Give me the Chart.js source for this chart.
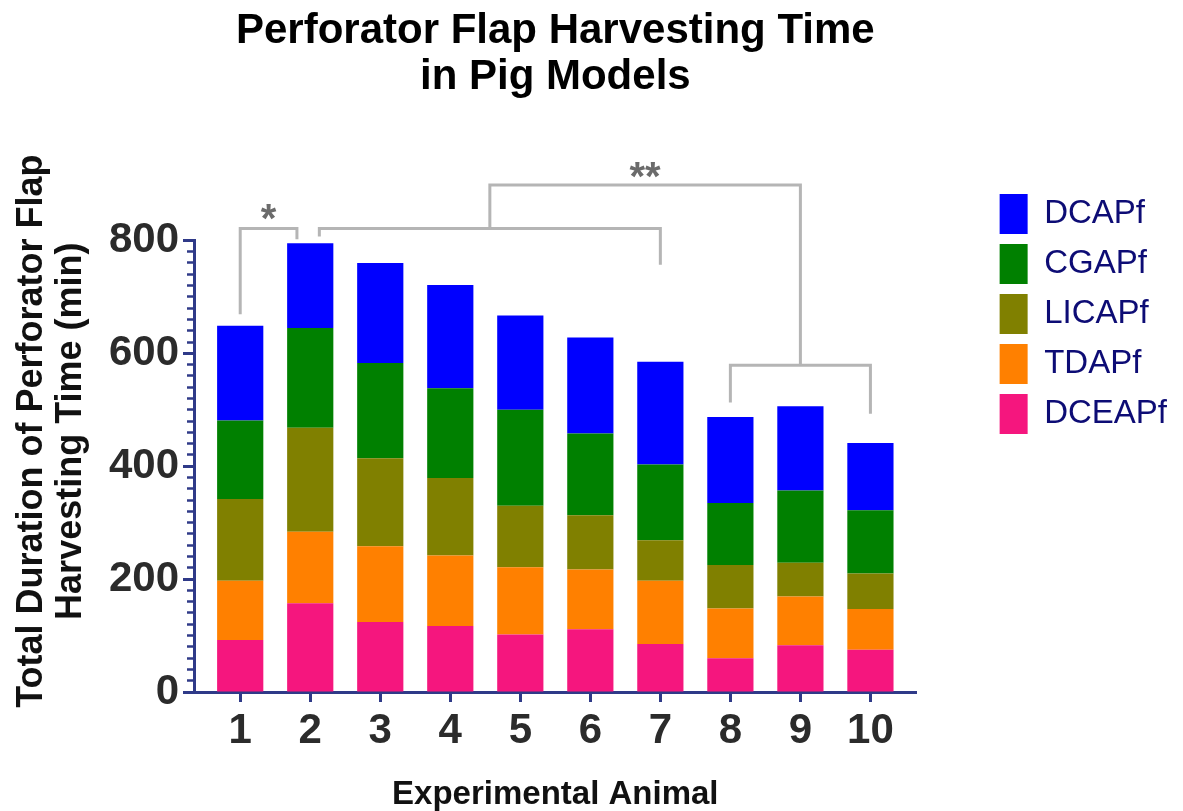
<!DOCTYPE html>
<html>
<head>
<meta charset="utf-8">
<script src="https://cdn.jsdelivr.net/npm/chart.js@4/dist/chart.umd.min.js"></script>
<style>
  html, body { margin: 0; padding: 0; background: #fff; }
  #wrap { width: 1183px; height: 811px; }
</style>
</head>
<body>
<div id="wrap"><canvas id="flapChart"></canvas></div>
<script>
  // animals on the x axis
  const animals = ['1', '2', '3', '4', '5', '6', '7', '8', '9', '10'];

  // minutes per flap (bottom of stack first)
  const dceapf = [92, 157, 124, 117, 102, 111, 85, 60, 83, 75];
  const tdapf  = [105, 127, 134, 125, 119, 106, 112, 88, 86, 72];
  const licapf = [145, 184, 156, 137, 109, 96, 72, 77, 60, 63];
  const cgapf  = [139, 177, 169, 159, 170, 145, 134, 110, 128, 112];
  const dcapf  = [168, 150, 177, 183, 167, 170, 182, 152, 149, 119];

  const yTicks = [0, 200, 400, 600, 800];

  // significance brackets, x in animal number, y in minutes
  const brackets = [
    { from: 1,     to: 1.81, top: 821, leftEnd: 669, rightEnd: 802 },
    { from: 2.13,  to: 7,    top: 821, leftEnd: 807, rightEnd: 757 },
    { from: 8,     to: 10,   top: 579, leftEnd: 513, rightEnd: 493 },
    { from: 4.565, to: 9,    top: 898, leftEnd: 821, rightEnd: 579 }
  ];
  const stars = [
    { x: 1.405, y: 814, text: '*' },
    { x: 6.78,  y: 889, text: '**' }
  ];

  const NAVY = '#2f3a88';
  const FONT = '"Liberation Sans", Arial, Helvetica, sans-serif';
  Chart.defaults.font.family = FONT;

  const toPoints = arr => arr.map((v, i) => ({ x: i + 1, y: v }));

  const sigPlugin = {
    id: 'sigBrackets',
    afterDraw(chart) {
      const { ctx } = chart;
      const x = chart.scales.x, y = chart.scales.y;
      ctx.save();
      ctx.strokeStyle = '#b5b5b5';
      ctx.lineWidth = 3;
      brackets.forEach(b => {
        const x1 = x.getPixelForValue(b.from);
        const x2 = x.getPixelForValue(b.to);
        const yt = y.getPixelForValue(b.top);
        ctx.beginPath();
        ctx.moveTo(x1, y.getPixelForValue(b.leftEnd));
        ctx.lineTo(x1, yt);
        ctx.lineTo(x2, yt);
        ctx.lineTo(x2, y.getPixelForValue(b.rightEnd));
        ctx.stroke();
      });
      ctx.fillStyle = '#6b6b6b';
      ctx.font = 'bold 40px ' + FONT;
      ctx.textAlign = 'center';
      ctx.textBaseline = 'alphabetic';
      stars.forEach(s => {
        ctx.fillText(s.text, x.getPixelForValue(s.x), y.getPixelForValue(s.y));
      });
      ctx.restore();
    }
  };

  new Chart(document.getElementById('flapChart'), {
    type: 'bar',
    data: {
      datasets: [
        { label: 'DCEAPf', data: toPoints(dceapf), backgroundColor: '#f5167e' },
        { label: 'TDAPf',  data: toPoints(tdapf),  backgroundColor: '#ff8000' },
        { label: 'LICAPf', data: toPoints(licapf), backgroundColor: '#808000' },
        { label: 'CGAPf',  data: toPoints(cgapf),  backgroundColor: '#008000' },
        { label: 'DCAPf',  data: toPoints(dcapf),  backgroundColor: '#0000ff' }
      ]
    },
    options: {
      responsive: true,
      maintainAspectRatio: false,
      animation: false,
      barPercentage: 0.66,
      categoryPercentage: 1,
      layout: { padding: { top: 0, right: 6, bottom: 0, left: 0 } },
      plugins: {
        title: {
          display: true,
          fullSize: false,
          text: ['Perforator Flap Harvesting Time', 'in Pig Models'],
          color: '#000',
          font: { size: 42, weight: 'bold', lineHeight: 1.1 },
          padding: { top: 8, bottom: 140 }
        },
        legend: {
          position: 'right',
          align: 'start',
          reverse: true,
          maxWidth: 200,
          title: { display: true, text: '', font: { size: 10, lineHeight: 1 }, padding: { top: 174, bottom: 0 } },
          labels: {
            boxWidth: 28,
            boxHeight: 40,
            padding: 10,
            color: '#0d0c75',
            font: { size: 33 }
          }
        },
        tooltip: { enabled: false }
      },
      scales: {
        x: {
          type: 'linear',
          offset: false,
          min: 0.34,
          max: 10.66,
          stacked: true,
          afterBuildTicks: s => { s.ticks = animals.map((a, i) => ({ value: i + 1 })); },
          afterFit: s => { s.height = 119; },
          ticks: {
            autoSkip: false,
            maxRotation: 0,
            padding: 4,
            color: '#2b2b2b',
            font: { size: 42, weight: 'bold' },
            callback: v => animals[Math.round(v) - 1]
          },
          grid: { offset: false, drawOnChartArea: false, tickLength: 10, tickColor: NAVY, tickWidth: 3 },
          border: { color: NAVY, width: 3 },
          title: {
            display: true,
            text: 'Experimental Animal',
            color: '#111',
            font: { size: 33, weight: 'bold', lineHeight: 1 },
            padding: { top: 0, bottom: 0 }
          }
        },
        y: {
          position: 'left',
          weight: 1,
          min: 0,
          max: 800,
          stacked: true,
          afterBuildTicks: s => { s.ticks = yTicks.map(v => ({ value: v })); },
          afterFit: s => { s.width = 194; },
          ticks: { padding: 4, color: '#2b2b2b', font: { size: 42, weight: 'bold' } },
          grid: { drawOnChartArea: false, tickLength: 11, tickColor: NAVY, tickWidth: 3 },
          border: { color: NAVY, width: 3 },
          title: {
            display: true,
            // leading spaces lift the centred title a little, as in the figure
            text: ['       Total Duration of Perforator Flap', '       Harvesting Time (min)'],
            color: '#111',
            font: { size: 36, weight: 'bold', lineHeight: 1.1 },
            padding: { top: 12, bottom: 0 }
          }
        },
        yMinor: {
          position: 'left',
          weight: 0,
          min: 0,
          max: 800,
          afterFit: s => { s.width = 0; },
          ticks: { stepSize: 20, display: false },
          grid: { drawOnChartArea: false, tickLength: 7, tickColor: NAVY, tickWidth: 2.5 },
          border: { display: false }
        },
        gap: {
          position: 'right',
          afterFit: s => { s.width = 73; },
          ticks: { display: false },
          grid: { display: false },
          border: { display: false }
        }
      }
    },
    plugins: [sigPlugin]
  });
</script>
</body>
</html>
